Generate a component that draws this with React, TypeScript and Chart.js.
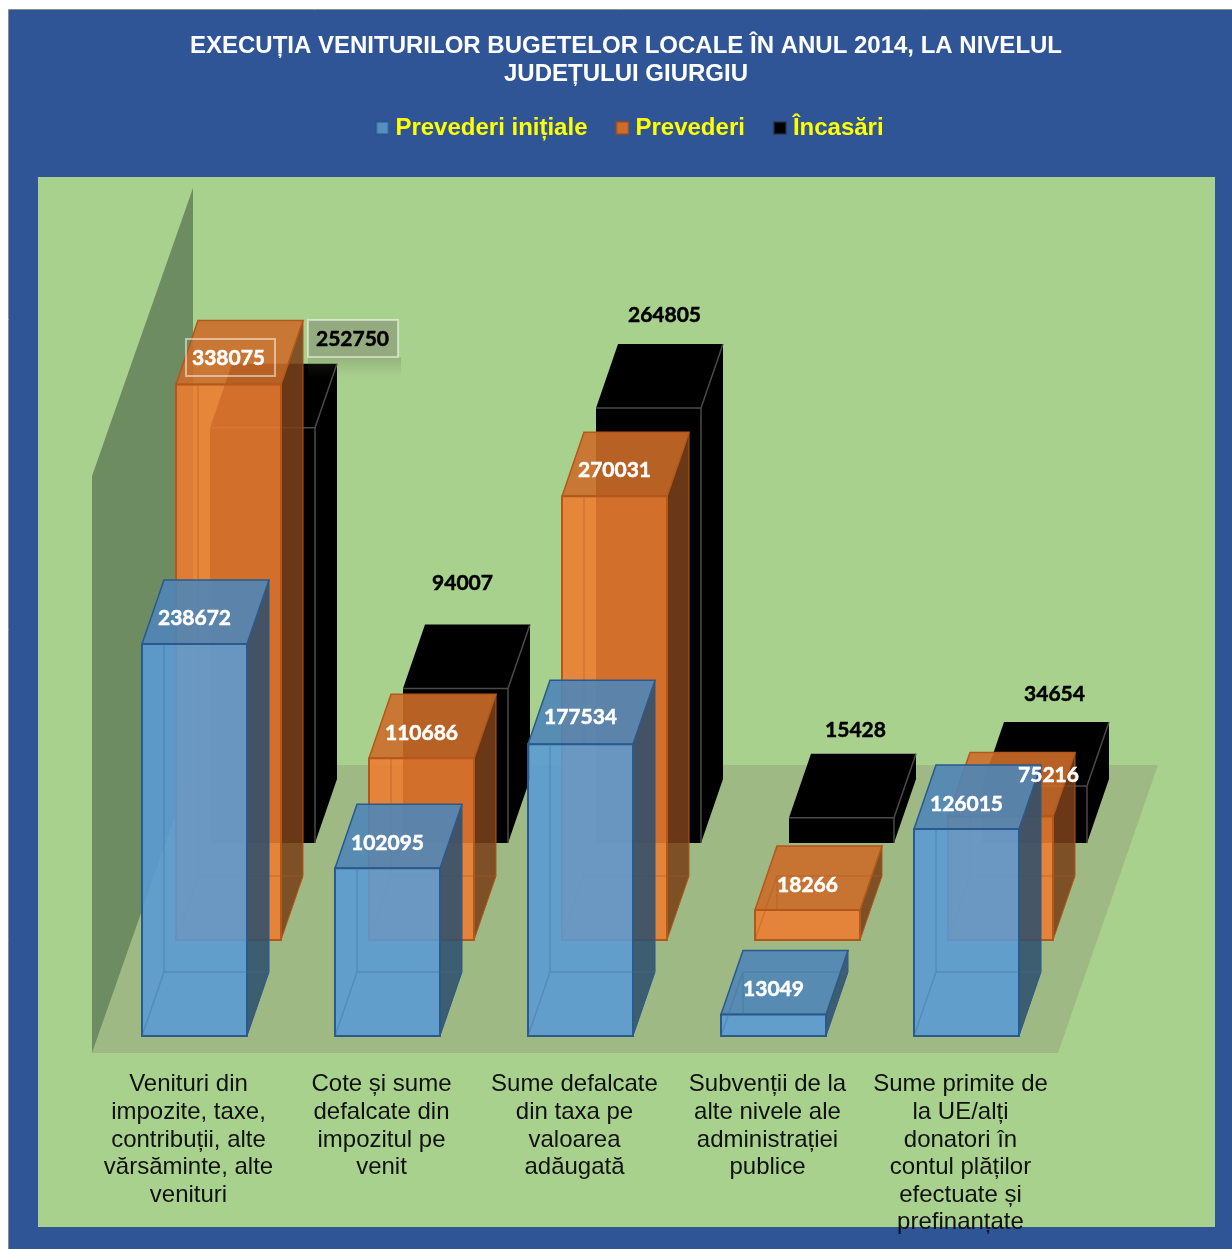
import React, { useEffect, useRef } from "react";
import { Chart, registerables } from "chart.js";

Chart.register(...registerables);

const titleLines = [
  "EXECUȚIA VENITURILOR BUGETELOR LOCALE ÎN ANUL 2014, LA NIVELUL",
  "JUDEȚULUI GIURGIU",
];

const categories = [
  ["Venituri din", "impozite, taxe,", "contribuții, alte", "vărsăminte, alte", "venituri"],
  ["Cote și sume", "defalcate din", "impozitul pe", "venit"],
  ["Sume defalcate", "din taxa pe", "valoarea", "adăugată"],
  ["Subvenții de la", "alte nivele ale", "administrației", "publice"],
  ["Sume primite de", "la UE/alți", "donatori în", "contul plăților", "efectuate și", "prefinanțate"],
];

const prevederiInitiale = [238672, 102095, 177534, 13049, 126015];
const prevederi = [338075, 110686, 270031, 18266, 75216];
const incasari = [252750, 94007, 264805, 15428, 34654];

const seriesNames = ["Prevederi inițiale", "Prevederi", "Încasări"];

// Front-face colour of each row, as [r, g, b].
const seriesRgb = [
  [91, 155, 213],
  [237, 125, 49],
  [0, 0, 0],
];
const edgeColours = ["#2a5a8c", "#b3571a", "#4a4a4a"];
const legendEdges = ["#28558a", "#8f4b24", "#2c3c62"];

// Each series sits on its own row of the 3D floor.
const rowShift = [
  { x: 6, y: 0 },
  { x: 40, y: -96 },
  { x: 74, y: -193 },
];
const depth = { x: 22, y: -64 };

// Value label placement, relative to the centre of a bar's front top edge.
const labelShift = [
  [[0, -26], [0, -25], [0, -27], [0, -25], [0, -25]],
  [[0, -26], [0, -25], [0, -26], [0, -25], [48, -41]],
  [[90, -89], [7, -105], [16, -93], [14, -87], [20, -92]],
];
const labelColours = ["#ffffff", "#ffffff", "#000000"];

type Pt = [number, number];

const poly = (ctx: CanvasRenderingContext2D, pts: Pt[], fill?: string, stroke?: string, lw = 1) => {
  ctx.beginPath();
  pts.forEach(([x, y], i) => (i ? ctx.lineTo(x, y) : ctx.moveTo(x, y)));
  ctx.closePath();
  if (fill) {
    ctx.fillStyle = fill;
    ctx.fill();
  }
  if (stroke) {
    ctx.strokeStyle = stroke;
    ctx.lineWidth = lw;
    ctx.stroke();
  }
};

const shade = ([r, g, b]: number[], k: number, a: number) =>
  `rgba(${Math.round(r * k)},${Math.round(g * k)},${Math.round(b * k)},${a})`;

const drawBox = (
  ctx: CanvasRenderingContext2D,
  series: number,
  left: number,
  right: number,
  top: number,
  bottom: number,
) => {
  const rgb = seriesRgb[series];
  const edge = edgeColours[series];
  const dx = depth.x;
  const dy = depth.y;
  const frontTL: Pt = [left, top];
  const frontTR: Pt = [right, top];
  const frontBR: Pt = [right, bottom];
  const frontBL: Pt = [left, bottom];
  const backTL: Pt = [left + dx, top + dy];
  const backTR: Pt = [right + dx, top + dy];
  const backBR: Pt = [right + dx, bottom + dy];
  const backBL: Pt = [left + dx, bottom + dy];

  if (series === 2) {
    // The black row is opaque; only its outer edges catch the light.
    poly(ctx, [frontTL, backTL, backTR, backBR, frontBR, frontBL], "#000000");
    ctx.strokeStyle = edge;
    ctx.lineWidth = 1.5;
    ctx.beginPath();
    ctx.moveTo(left, top);
    ctx.lineTo(right, top);
    ctx.lineTo(right, bottom);
    ctx.moveTo(right, top);
    ctx.lineTo(backTR[0], backTR[1]);
    ctx.stroke();
    return;
  }

  const inner = shade(rgb, 0.9, 0.16);
  poly(ctx, [backTL, backTR, backBR, backBL], inner);
  poly(ctx, [frontBL, frontBR, backBR, backBL], inner);
  poly(ctx, [frontTL, backTL, backBL, frontBL], inner);
  poly(ctx, [frontTR, backTR, backBR, frontBR], shade(rgb, 0.5, 0.85), edge, 1);
  poly(ctx, [frontTL, backTL, backTR, frontTR], shade(rgb, 0.86, 0.88), edge, 1.5);
  poly(ctx, [frontTL, frontTR, frontBR, frontBL], shade(rgb, 1, 0.87), edge, 2);

  // The hidden edges of the box show faintly through the translucent front.
  ctx.strokeStyle = shade(rgb, 0.72, 0.38);
  ctx.lineWidth = 1.5;
  ctx.beginPath();
  ctx.moveTo(backTL[0], backTL[1] - dy);
  ctx.lineTo(backBL[0], backBL[1]);
  ctx.lineTo(backBR[0], backBR[1]);
  ctx.moveTo(backBL[0], backBL[1]);
  ctx.lineTo(frontBL[0], frontBL[1]);
  ctx.stroke();
};

const scenePlugin = {
  id: "scene3d",
  afterLayout(chart: any) {
    // The legend's row width counts a trailing gap; recentre its items.
    chart.legend.left += 4.5;
    chart.legend.right += 4.5;
  },
  beforeDraw(chart: Chart) {
    const { ctx, width, height } = chart;
    ctx.save();
    ctx.fillStyle = "#ffffff";
    ctx.fillRect(0, 0, width, height);
    ctx.fillStyle = "#2f5597";
    ctx.fillRect(9, 10, width - 9, height - 10);
    ctx.strokeStyle = "#8c8c8c";
    ctx.lineWidth = 1;
    ctx.beginPath();
    ctx.moveTo(8.5, height);
    ctx.lineTo(8.5, 9.5);
    ctx.lineTo(width, 9.5);
    ctx.stroke();
    ctx.fillStyle = "#a9d18e";
    ctx.fillRect(38, 177, 1177, 1050);
    ctx.restore();
  },
  beforeDatasetsDraw(chart: Chart) {
    const { ctx } = chart;
    const { left, right, bottom } = chart.chartArea;
    const floorFront = bottom + 17;
    const floorBack = floorFront - 288;
    const run = 100;
    ctx.save();
    poly(
      ctx,
      [
        [left, floorFront],
        [right + 1, floorFront],
        [right + 1 + run, floorBack],
        [left + run + 1, floorBack],
      ],
      "#9fb985",
    );
    poly(
      ctx,
      [
        [left, floorFront],
        [left, floorFront - 577],
        [left + run + 1, floorBack - 577],
        [left + run + 1, floorBack],
      ],
      "#6e8c62",
    );
    ctx.restore();
  },
  beforeDatasetDraw(chart: Chart, args: { index: number }) {
    const { ctx } = chart;
    const s = args.index;
    const shift = rowShift[s];
    ctx.save();
    chart.getDatasetMeta(s).data.forEach((bar: any) => {
      const half = bar.width / 2;
      drawBox(ctx, s, bar.x - half + shift.x, bar.x + half + shift.x, bar.y + shift.y, bar.base + shift.y);
    });
    ctx.restore();
    return false;
  },
  afterDatasetsDraw(chart: Chart) {
    const { ctx } = chart;
    ctx.save();
    // Framed value boxes on the two tallest bars of the first category.
    const g = ctx.createLinearGradient(0, 357, 0, 378);
    g.addColorStop(0, "rgba(90,90,70,0.25)");
    g.addColorStop(1, "rgba(90,90,70,0)");
    ctx.fillStyle = g;
    ctx.fillRect(308, 357, 93, 21);
    ctx.fillStyle = "rgba(120,120,110,0.42)";
    ctx.fillRect(308, 320, 90, 37);
    ctx.strokeStyle = "rgba(255,255,255,0.5)";
    ctx.lineWidth = 2;
    ctx.strokeRect(308, 320, 90, 37);
    ctx.strokeRect(186, 339, 89, 37);

    ctx.font = "bold 21px Lato";
    ctx.textAlign = "center";
    ctx.textBaseline = "middle";
    ctx.lineWidth = 0.5;
    chart.data.datasets.forEach((ds, s) => {
      const shift = rowShift[s];
      chart.getDatasetMeta(s).data.forEach((bar: any, i: number) => {
        const [lx, ly] = labelShift[s][i];
        const x = bar.x + shift.x + lx;
        const y = bar.y + shift.y + ly;
        ctx.fillStyle = labelColours[s];
        ctx.strokeStyle = labelColours[s];
        ctx.fillText(String(ds.data[i]), x, y);
        ctx.strokeText(String(ds.data[i]), x, y);
      });
    });
    ctx.restore();
  },
};

// Legend swatch: a small square with a soft darker rim, placed so the text
// begins just after it.
const makeSwatch = (series: number) => {
  const c = document.createElement("canvas");
  c.width = 18;
  c.height = 16;
  const g = c.getContext("2d")!;
  g.fillStyle = legendEdges[series];
  g.fillRect(4, 1, 14, 14);
  g.fillStyle = shade(seriesRgb[series], series === 1 ? 0.87 : 0.92, 1);
  g.fillRect(5.5, 2.5, 11, 11);
  return c;
};

export default function App() {
  const ref = useRef<HTMLCanvasElement>(null);

  useEffect(() => {
    const swatches = [0, 1, 2].map(makeSwatch);
    const hidden = { display: false };
    const chart = new Chart(ref.current!, {
      type: "bar",
      data: {
        labels: categories,
        datasets: [prevederiInitiale, prevederi, incasari].map((data, s) => ({
          label: seriesNames[s],
          data,
          backgroundColor: shade(seriesRgb[s], 1, 1),
          borderColor: edgeColours[s],
          yAxisID: "y",
        })),
      },
      options: {
        responsive: false,
        animation: false,
        datasets: { bar: { grouped: false, categoryPercentage: 1, barPercentage: 105 / 193 } },
        layout: { padding: { left: 20, right: 0, top: 32, bottom: 0 } },
        plugins: {
          tooltip: { enabled: false },
          title: {
            display: true,
            text: titleLines,
            color: "#ffffff",
            font: { family: "Liberation Sans", size: 24, weight: "bold", lineHeight: 28 / 24 },
            padding: { top: 0, bottom: -2 },
          },
          legend: {
            position: "top",
            labels: {
              color: "#ffff00",
              font: { family: "Liberation Sans", size: 24, weight: "bold" },
              usePointStyle: true,
              pointStyleWidth: 6,
              boxHeight: 12,
              padding: 30,
              generateLabels: (c: Chart) =>
                Chart.defaults.plugins.legend.labels
                  .generateLabels(c)
                  .map((item: any, i: number) => ({ ...item, pointStyle: swatches[i], fontColor: "#ffff00" })),
            },
          },
        },
        scales: {
          x: {
            grid: hidden,
            border: hidden,
            afterFit: (s: any) => {
              s.height = 213;
            },
            ticks: {
              autoSkip: false,
              maxRotation: 0,
              minRotation: 0,
              padding: 27,
              color: "#111111",
              font: { family: "Liberation Sans", size: 24, lineHeight: 27.6 / 24 },
            },
          },
          y: {
            position: "left",
            min: 0,
            max: 539300,
            grid: hidden,
            border: hidden,
            ticks: hidden,
            afterFit: (s: any) => {
              s.width = 72;
            },
          },
          edge: {
            type: "linear",
            position: "right",
            grid: hidden,
            border: hidden,
            ticks: hidden,
            afterFit: (s: any) => {
              s.width = 175;
            },
          },
        },
      } as any,
      plugins: [scenePlugin as any],
    });
    return () => chart.destroy();
  }, []);

  return (
    <div style={{ position: "absolute", left: 0, top: 0, width: 1232, height: 1249 }}>
      <canvas ref={ref} width={1232} height={1249} style={{ display: "block" }} />
    </div>
  );
}
